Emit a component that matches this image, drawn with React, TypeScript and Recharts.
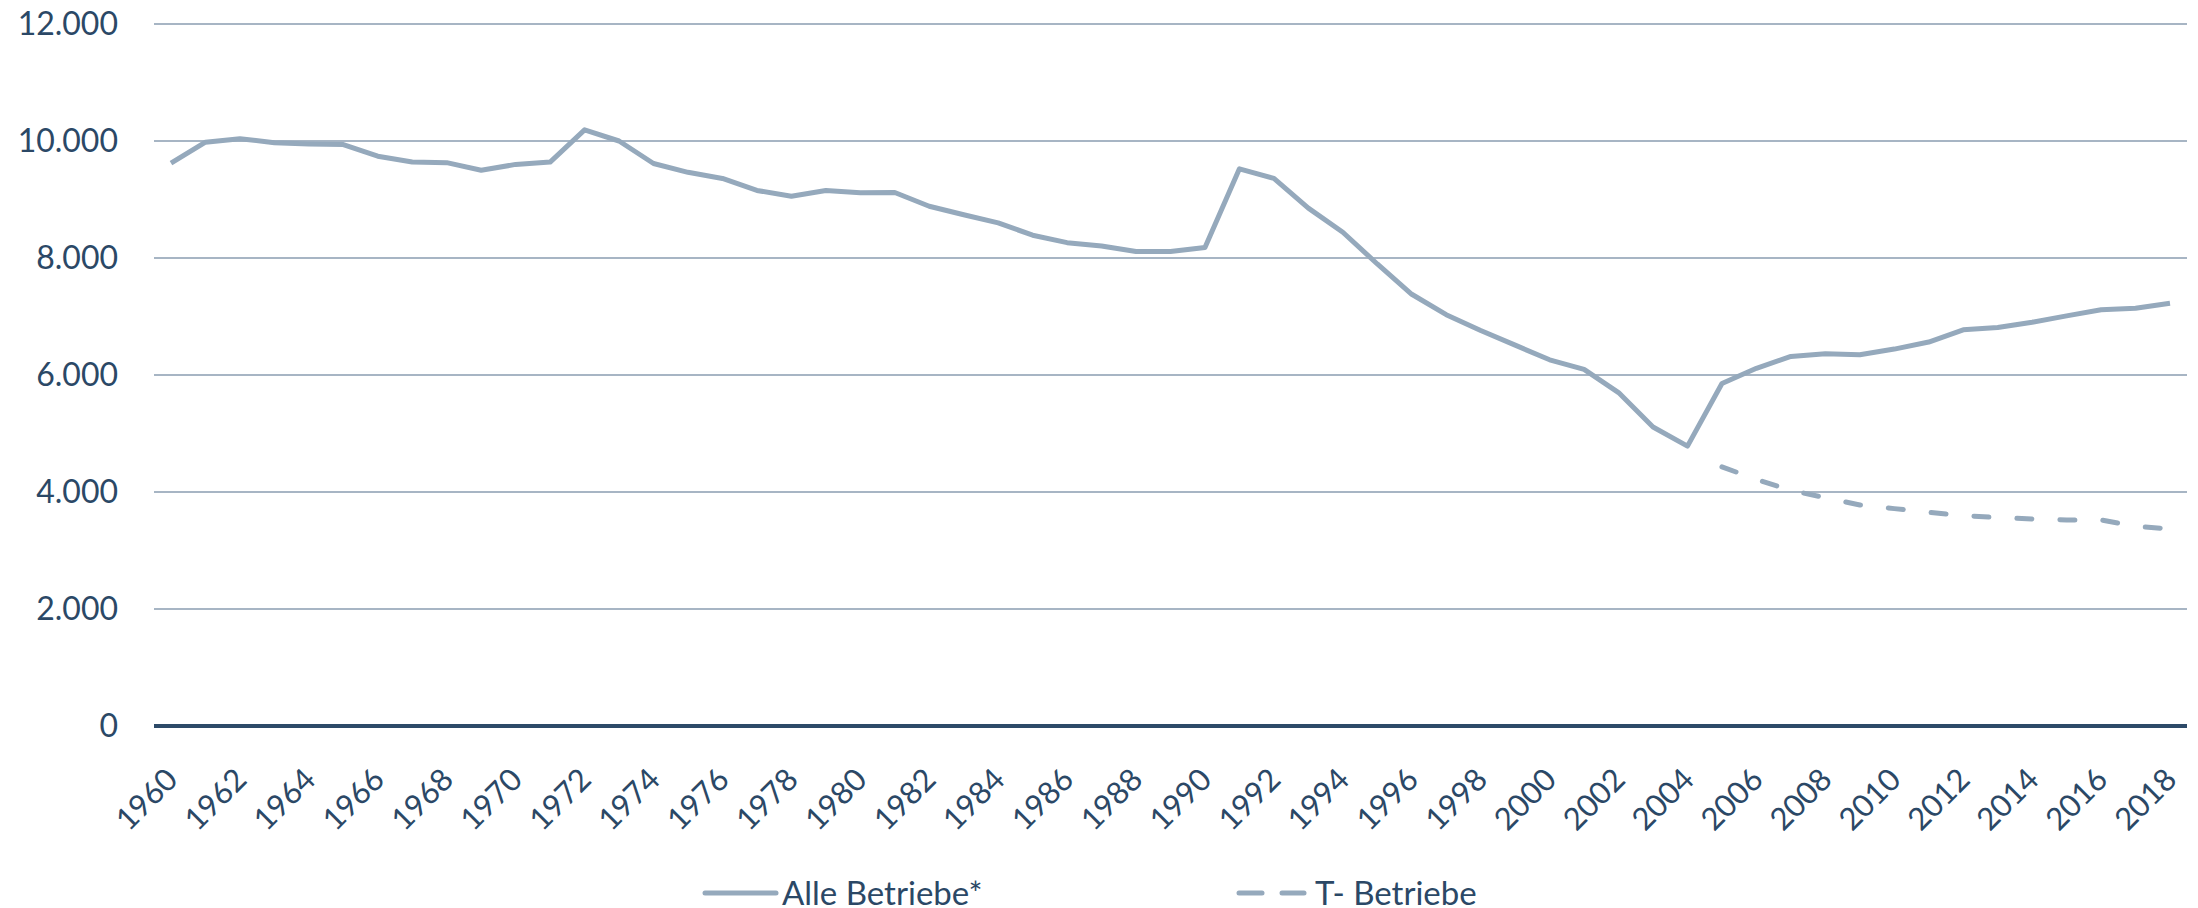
import React from 'react';
import { LineChart, Line, XAxis, YAxis, CartesianGrid } from 'recharts';

// Jahre (Kategorien)
const years: number[] = [
  1960, 1961, 1962, 1963, 1964, 1965, 1966, 1967, 1968, 1969,
  1970, 1971, 1972, 1973, 1974, 1975, 1976, 1977, 1978, 1979,
  1980, 1981, 1982, 1983, 1984, 1985, 1986, 1987, 1988, 1989,
  1990, 1991, 1992, 1993, 1994, 1995, 1996, 1997, 1998, 1999,
  2000, 2001, 2002, 2003, 2004, 2005, 2006, 2007, 2008, 2009,
  2010, 2011, 2012, 2013, 2014, 2015, 2016, 2017, 2018,
];

// Alle Betriebe*, 1960-2018
const alleBetriebe: number[] = [
  9620, 9980, 10040, 9970, 9950, 9940, 9740, 9640, 9630, 9500,
  9600, 9640, 10190, 10000, 9615, 9465, 9360, 9155, 9055, 9155,
  9115, 9120, 8885, 8740, 8600, 8390, 8262, 8205, 8110, 8110,
  8178, 9525, 9360, 8853, 8440, 7898, 7380, 7031, 6760, 6510,
  6260, 6095, 5700, 5112, 4784, 5856, 6115, 6318, 6364, 6347,
  6443, 6563, 6773, 6812, 6903, 7011, 7114, 7142, 7227,
];

// T- Betriebe, erst ab 2005
const tStartYear = 2005;
const tBetriebe: number[] = [
  4430, 4215, 4028, 3903, 3778, 3716, 3653, 3597, 3563, 3540,
  3523, 3523, 3415, 3369,
];

const yTicks: number[] = [0, 2000, 4000, 6000, 8000, 10000, 12000];

const data = years.map((year, i) => ({
  year: String(year),
  alle: alleBetriebe[i],
  t: year >= tStartYear ? tBetriebe[year - tStartYear] : null,
}));

const LINE = '#95a9bc';
const TEXT = '#2b4866';
const FONT = 'Lato, "Open Sans", sans-serif';

const fmt = (v: number) => String(v).replace(/\B(?=(\d{3})+(?!\d))/g, '.');

const YearTick = (props: any) => {
  const { x, y, payload } = props;
  const ty = y + 47;
  return (
    <text
      x={x}
      y={ty}
      transform={`rotate(-45 ${x} ${ty})`}
      textAnchor="end"
      dominantBaseline="central"
      fill={TEXT}
      fontSize={31}
      fontFamily={FONT}
    >
      {payload.value}
    </text>
  );
};

export default function App() {
  return (
    <div style={{ position: 'absolute', left: 0, top: 0, width: 2198, height: 908, background: '#fff' }}>
      <LineChart width={2198} height={908} data={data} margin={{ top: 24, right: 11, left: 0, bottom: 0 }}>
        <CartesianGrid vertical={false} stroke="#a7b5c4" strokeWidth={2} />
        <XAxis
          dataKey="year"
          interval={1}
          height={182}
          padding={{ left: 17, right: 17 }}
          tickLine={false}
          tickSize={0}
          tickMargin={0}
          axisLine={{ stroke: '#2d4a68', strokeWidth: 4 }}
          tick={<YearTick />}
        />
        <YAxis
          width={154}
          domain={[0, 12000]}
          ticks={yTicks}
          tickFormatter={fmt}
          axisLine={false}
          tickLine={false}
          tickSize={0}
          tickMargin={36}
          tick={{ fill: TEXT, fontSize: 32, fontFamily: FONT }}
        />
        <Line
          dataKey="alle"
          stroke={LINE}
          strokeWidth={5}
          dot={false}
          strokeLinejoin="round"
          isAnimationActive={false}
        />
        <Line
          dataKey="t"
          stroke={LINE}
          strokeWidth={5}
          strokeDasharray="15 28"
          strokeLinecap="round"
          dot={false}
          isAnimationActive={false}
        />
      </LineChart>

      <div style={{ position: 'absolute', left: 700, top: 868, width: 340, height: 48, fontFamily: FONT, fontSize: 33, color: TEXT }}>
        <svg width={80} height={48} style={{ position: 'absolute', left: 0, top: 0 }}>
          <line x1={5} y1={25} x2={76} y2={25} stroke={LINE} strokeWidth={5} strokeLinecap="round" />
        </svg>
        <span style={{ position: 'absolute', left: 82, top: 3, whiteSpace: 'nowrap', lineHeight: '42px' }}>Alle Betriebe*</span>
      </div>

      <div style={{ position: 'absolute', left: 1232, top: 868, width: 340, height: 48, fontFamily: FONT, fontSize: 33, color: TEXT }}>
        <svg width={80} height={48} style={{ position: 'absolute', left: 0, top: 0 }}>
          <line x1={7} y1={25} x2={30} y2={25} stroke={LINE} strokeWidth={5} strokeLinecap="round" />
          <line x1={50} y1={25} x2={72} y2={25} stroke={LINE} strokeWidth={5} strokeLinecap="round" />
        </svg>
        <span style={{ position: 'absolute', left: 83, top: 3, whiteSpace: 'nowrap', lineHeight: '42px' }}>T- Betriebe</span>
      </div>
    </div>
  );
}
